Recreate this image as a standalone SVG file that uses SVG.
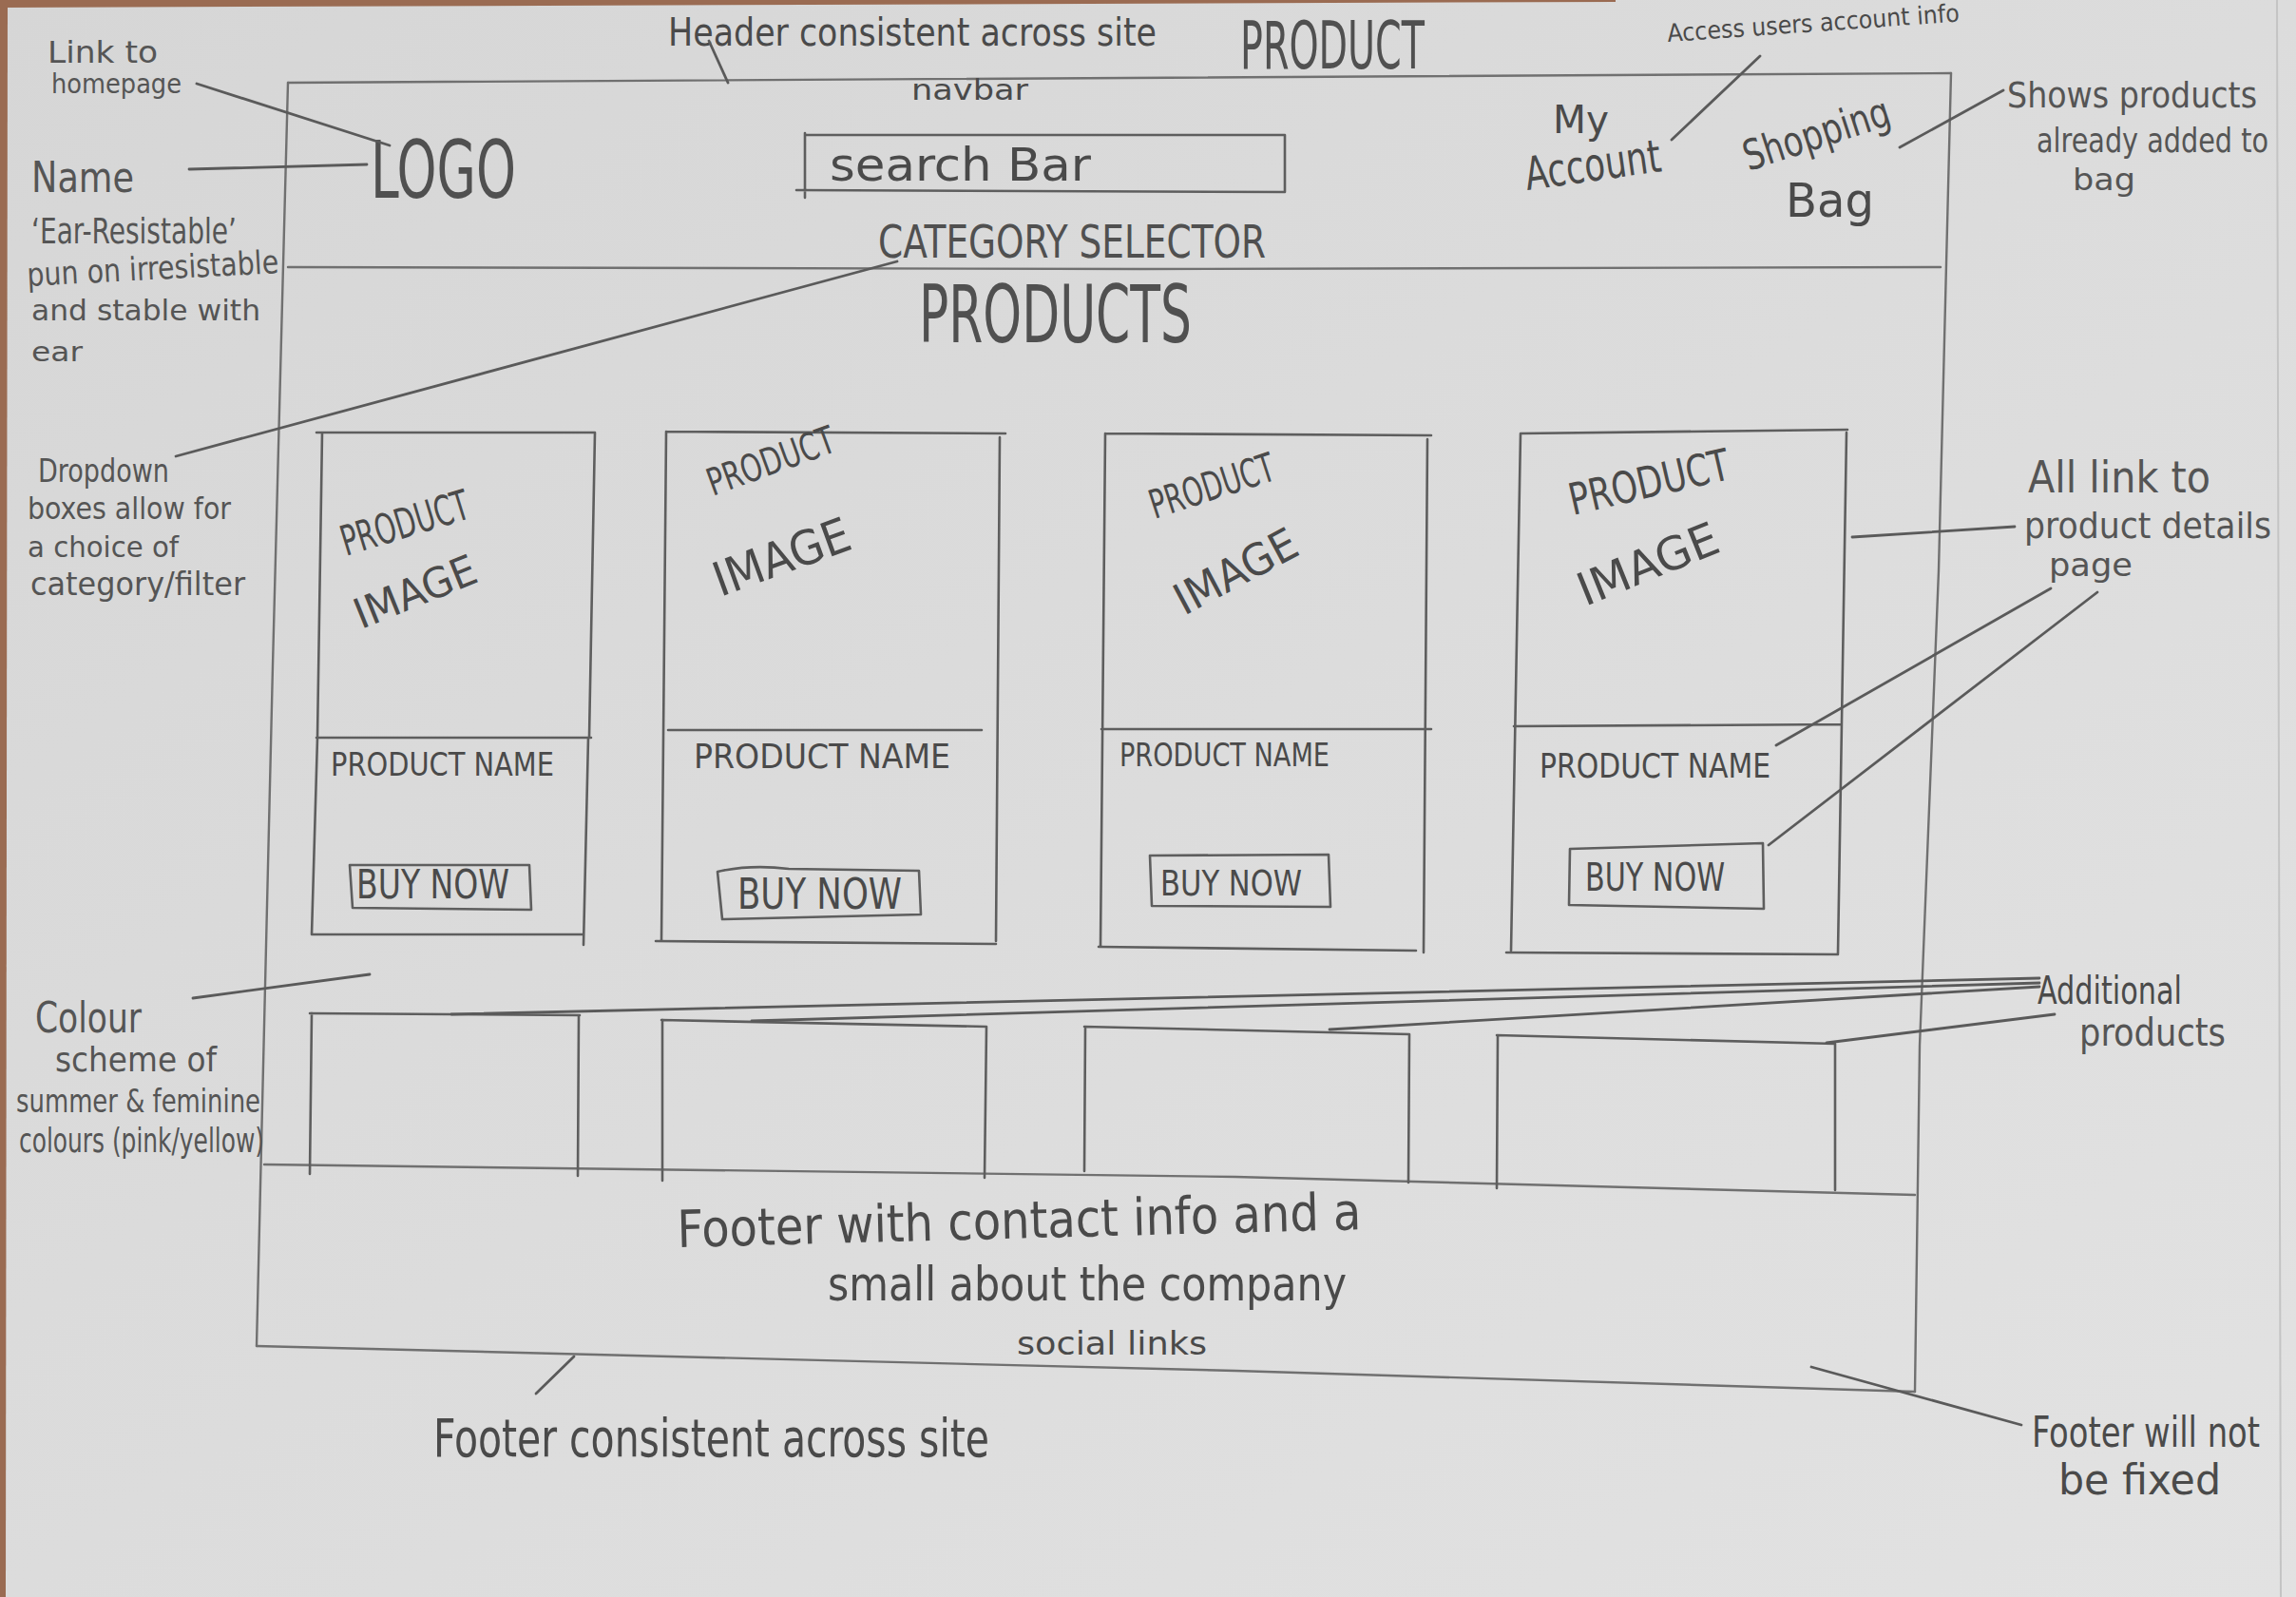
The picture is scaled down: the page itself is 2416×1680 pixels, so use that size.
<svg xmlns="http://www.w3.org/2000/svg" width="2416" height="1680" viewBox="0 0 2416 1680">
  <defs>
    <linearGradient id="paper" x1="0" y1="0" x2="1" y2="1">
      <stop offset="0" stop-color="#d6d6d6"/>
      <stop offset="0.5" stop-color="#dcdcdc"/>
      <stop offset="1" stop-color="#e2e2e2"/>
    </linearGradient>
    <style>
      .pen { fill: none; stroke: #5e5e5e; stroke-width: 2.6; stroke-linecap: round; stroke-linejoin: round; }
      .lead { fill: none; stroke: #5a5a5a; stroke-width: 2.8; stroke-linecap: round; }
      .frame { fill: none; stroke: #707070; stroke-width: 2.4; stroke-linecap: round; }
      text { font-family: "Liberation Sans Narrow", "DejaVu Sans Condensed", "Liberation Sans", sans-serif; fill: #4a4a4a; }
      .note { fill: #555555; }
      .caps { fill: #505050; }
    </style>
  </defs>

  <!-- paper sheet on the table -->
  <rect x="0" y="0" width="2416" height="1680" fill="url(#paper)"/>
  <polygon points="0,0 1700,0 1700,2 0,8" fill="#9a6b52"/>
  <polygon points="0,0 8,0 6,1680 0,1680" fill="#9a6b52"/>
  <line x1="2396" y1="0" x2="2400" y2="1680" stroke="#c4c4c4" stroke-width="2"/>

  <!-- page outline -->
  <g id="page-frame">
    <path class="frame" d="M303,87 L2053,77"/>
    <path class="frame" d="M303,87 L287,700 L270,1416"/>
    <path class="frame" d="M2053,77 L2040,600 L2020,1100 L2015,1464"/>
    <path class="frame" d="M303,281 L1200,283 L2042,281"/>
    <path class="frame" d="M278,1225 L1300,1238 L2015,1257"/>
    <path class="frame" d="M270,1416 L1300,1442 L2015,1464"/>
  </g>

  <!-- header / navbar -->
  <g id="page-title">
    <text x="1305" y="72" font-size="70" textLength="194" lengthAdjust="spacingAndGlyphs" class="caps">PRODUCT</text>
  </g>
  <g id="navbar-label">
    <text x="959" y="105" font-size="30" textLength="123" lengthAdjust="spacingAndGlyphs">navbar</text>
  </g>
  <g id="logo">
    <text x="390" y="208" font-size="84" textLength="153" lengthAdjust="spacingAndGlyphs" class="caps">LOGO</text>
  </g>
  <g id="search-bar">
    <path class="pen" d="M847,142 L1352,142 L1352,202 L838,200 M847,140 L847,208"/>
    <text x="873" y="190" font-size="48" textLength="275" lengthAdjust="spacingAndGlyphs">search Bar</text>
  </g>
  <g id="my-account">
    <text x="1634" y="140" font-size="40" textLength="59" lengthAdjust="spacingAndGlyphs">My</text>
    <text x="1607" y="200" font-size="48" textLength="144" lengthAdjust="spacingAndGlyphs" transform="rotate(-8 1607 200)">Account</text>
  </g>
  <g id="shopping-bag">
    <text x="1840" y="180" font-size="44" textLength="160" lengthAdjust="spacingAndGlyphs" transform="rotate(-18 1840 180)">Shopping</text>
    <text x="1879" y="228" font-size="50" textLength="93" lengthAdjust="spacingAndGlyphs">Bag</text>
  </g>
  <g id="category-selector">
    <text x="924" y="271" font-size="48" textLength="408" lengthAdjust="spacingAndGlyphs" class="caps">CATEGORY SELECTOR</text>
  </g>

  <!-- products section -->
  <g id="products-heading">
    <text x="967" y="360" font-size="84" textLength="287" lengthAdjust="spacingAndGlyphs" class="caps">PRODUCTS</text>
  </g>

  <g id="product-card-1">
    <path class="pen" d="M333,455 L626,455 L620,776 M333,776 L622,776 M339,455 L334,776 L328,983 L614,983 M619,776 L614,994"/>
    <text x="364" y="585" font-size="44" textLength="139" lengthAdjust="spacingAndGlyphs" transform="rotate(-17 364 585)">PRODUCT</text>
    <text x="380" y="662" font-size="44" textLength="135" lengthAdjust="spacingAndGlyphs" transform="rotate(-22 380 662)">IMAGE</text>
    <text x="348" y="816" font-size="34" textLength="235" lengthAdjust="spacingAndGlyphs">PRODUCT NAME</text>
    <path class="pen" d="M368,910 L557,910 L559,957 L371,955 Z"/>
    <text x="375" y="945" font-size="42" textLength="161" lengthAdjust="spacingAndGlyphs">BUY NOW</text>
  </g>

  <g id="product-card-2">
    <path class="pen" d="M701,454 L1058,456 M1052,460 L1048,990 M703,768 L1033,768 M701,454 L696,990 M690,990 L1048,993"/>
    <text x="750" y="522" font-size="40" textLength="140" lengthAdjust="spacingAndGlyphs" transform="rotate(-20 750 522)">PRODUCT</text>
    <text x="758" y="628" font-size="50" textLength="150" lengthAdjust="spacingAndGlyphs" transform="rotate(-20 758 628)" fill="#3e3e3e">IMAGE</text>
    <text x="730" y="808" font-size="36" textLength="270" lengthAdjust="spacingAndGlyphs">PRODUCT NAME</text>
    <path class="pen" d="M755,917 Q790,909 830,914 L967,916 L969,962 L760,967 Z"/>
    <text x="776" y="956" font-size="44" textLength="173" lengthAdjust="spacingAndGlyphs">BUY NOW</text>
  </g>

  <g id="product-card-3">
    <path class="pen" d="M1163,456 L1506,458 M1502,462 L1498,1002 M1159,767 L1506,767 M1163,456 L1158,996 M1156,996 L1490,1000"/>
    <text x="1215" y="546" font-size="42" textLength="136" lengthAdjust="spacingAndGlyphs" transform="rotate(-18 1215 546)">PRODUCT</text>
    <text x="1246" y="648" font-size="46" textLength="140" lengthAdjust="spacingAndGlyphs" transform="rotate(-28 1246 648)">IMAGE</text>
    <text x="1178" y="806" font-size="34" textLength="221" lengthAdjust="spacingAndGlyphs">PRODUCT NAME</text>
    <path class="pen" d="M1210,900 L1398,899 L1400,954 L1212,953 Z"/>
    <text x="1221" y="942" font-size="38" textLength="149" lengthAdjust="spacingAndGlyphs">BUY NOW</text>
  </g>

  <g id="product-card-4">
    <path class="pen" d="M1600,456 L1944,452 M1943,455 L1934,1003 M1593,764 L1938,762 M1600,456 L1590,1000 M1585,1002 L1934,1004"/>
    <text x="1655" y="542" font-size="46" textLength="172" lengthAdjust="spacingAndGlyphs" transform="rotate(-13 1655 542)">PRODUCT</text>
    <text x="1668" y="638" font-size="48" textLength="156" lengthAdjust="spacingAndGlyphs" transform="rotate(-22 1668 638)">IMAGE</text>
    <text x="1620" y="818" font-size="36" textLength="243" lengthAdjust="spacingAndGlyphs">PRODUCT NAME</text>
    <path class="pen" d="M1652,893 L1855,887 L1856,956 L1651,952 Z"/>
    <text x="1668" y="937" font-size="40" textLength="147" lengthAdjust="spacingAndGlyphs">BUY NOW</text>
  </g>

  <!-- additional products row -->
  <g id="additional-1">
    <path class="pen" d="M326,1066 L610,1068 M328,1066 L326,1235 M609,1068 L608,1237"/>
  </g>
  <g id="additional-2">
    <path class="pen" d="M696,1073 L1038,1080 M697,1073 L697,1242 M1038,1080 L1036,1239"/>
  </g>
  <g id="additional-3">
    <path class="pen" d="M1141,1080 L1483,1088 M1142,1082 L1141,1232 M1483,1088 L1482,1244"/>
  </g>
  <g id="additional-4">
    <path class="pen" d="M1575,1089 L1931,1098 M1576,1090 L1575,1250 M1931,1098 L1931,1252"/>
  </g>

  <!-- footer -->
  <g id="footer">
    <text x="713" y="1312" font-size="54" textLength="720" lengthAdjust="spacingAndGlyphs" transform="rotate(-1.5 713 1312)">Footer with contact info and a</text>
    <text x="871" y="1368" font-size="50" textLength="546" lengthAdjust="spacingAndGlyphs">small about the company</text>
    <text x="1070" y="1425" font-size="34" textLength="200" lengthAdjust="spacingAndGlyphs">social links</text>
  </g>

  <!-- side notes -->
  <g id="note-homepage">
    <text x="50" y="66" font-size="32" textLength="116" lengthAdjust="spacingAndGlyphs" class="note">Link to</text>
    <text x="54" y="98" font-size="28" textLength="137" lengthAdjust="spacingAndGlyphs" class="note">homepage</text>
  </g>
  <g id="note-name">
    <text x="33" y="202" font-size="44" textLength="108" lengthAdjust="spacingAndGlyphs" class="note">Name</text>
    <text x="33" y="256" font-size="38" textLength="216" lengthAdjust="spacingAndGlyphs" class="note">‘Ear-Resistable’</text>
    <text x="29" y="301" font-size="34" textLength="265" lengthAdjust="spacingAndGlyphs" class="note" transform="rotate(-3 29 301)">pun on irresistable</text>
    <text x="33" y="337" font-size="30" textLength="241" lengthAdjust="spacingAndGlyphs" class="note">and stable with</text>
    <text x="33" y="380" font-size="28" textLength="54" lengthAdjust="spacingAndGlyphs" class="note">ear</text>
  </g>
  <g id="note-header">
    <text x="703" y="48" font-size="40" textLength="514" lengthAdjust="spacingAndGlyphs">Header consistent across site</text>
  </g>
  <g id="note-account">
    <text x="1755" y="44" font-size="26" textLength="308" lengthAdjust="spacingAndGlyphs" transform="rotate(-4 1755 44)">Access users account info</text>
  </g>
  <g id="note-bag">
    <text x="2112" y="113" font-size="38" textLength="263" lengthAdjust="spacingAndGlyphs" class="note">Shows products</text>
    <text x="2143" y="160" font-size="36" textLength="244" lengthAdjust="spacingAndGlyphs" class="note">already added to</text>
    <text x="2181" y="200" font-size="32" textLength="66" lengthAdjust="spacingAndGlyphs" class="note">bag</text>
  </g>
  <g id="note-dropdown">
    <text x="40" y="507" font-size="34" textLength="138" lengthAdjust="spacingAndGlyphs" class="note">Dropdown</text>
    <text x="29" y="546" font-size="32" textLength="214" lengthAdjust="spacingAndGlyphs" class="note">boxes allow for</text>
    <text x="29" y="586" font-size="30" textLength="159" lengthAdjust="spacingAndGlyphs" class="note">a choice of</text>
    <text x="32" y="626" font-size="34" textLength="226" lengthAdjust="spacingAndGlyphs" class="note">category/filter</text>
  </g>
  <g id="note-product-links">
    <text x="2134" y="518" font-size="46" textLength="192" lengthAdjust="spacingAndGlyphs" class="note">All link to</text>
    <text x="2130" y="566" font-size="38" textLength="260" lengthAdjust="spacingAndGlyphs" class="note">product details</text>
    <text x="2156" y="606" font-size="34" textLength="88" lengthAdjust="spacingAndGlyphs" class="note">page</text>
  </g>
  <g id="note-colour">
    <text x="37" y="1086" font-size="44" textLength="112" lengthAdjust="spacingAndGlyphs" class="note">Colour</text>
    <text x="58" y="1127" font-size="36" textLength="170" lengthAdjust="spacingAndGlyphs" class="note">scheme of</text>
    <text x="17" y="1170" font-size="34" textLength="257" lengthAdjust="spacingAndGlyphs" class="note">summer &amp; feminine</text>
    <text x="20" y="1212" font-size="36" textLength="258" lengthAdjust="spacingAndGlyphs" class="note">colours (pink/yellow)</text>
  </g>
  <g id="note-additional">
    <text x="2144" y="1056" font-size="40" textLength="152" lengthAdjust="spacingAndGlyphs">Additional</text>
    <text x="2188" y="1100" font-size="40" textLength="154" lengthAdjust="spacingAndGlyphs" class="note">products</text>
  </g>
  <g id="note-footer">
    <text x="456" y="1532" font-size="56" textLength="585" lengthAdjust="spacingAndGlyphs">Footer consistent across site</text>
  </g>
  <g id="note-footer-fixed">
    <text x="2138" y="1522" font-size="44" textLength="240" lengthAdjust="spacingAndGlyphs">Footer will not</text>
    <text x="2166" y="1572" font-size="44" textLength="171" lengthAdjust="spacingAndGlyphs">be fixed</text>
  </g>

  <!-- leader lines from notes to page parts -->
  <g id="connectors">
    <path class="lead" d="M746,43 L766,87"/>
    <path class="lead" d="M207,88 L410,153"/>
    <path class="lead" d="M199,178 L386,173"/>
    <path class="lead" d="M1852,59 L1759,147"/>
    <path class="lead" d="M1999,155 L2108,95"/>
    <path class="lead" d="M944,275 L185,480"/>
    <path class="lead" d="M1949,565 L2120,554"/>
    <path class="lead" d="M1869,784 L2158,619"/>
    <path class="lead" d="M1861,889 L2207,623"/>
    <path class="lead" d="M475,1067 L2146,1029"/>
    <path class="lead" d="M791,1074 L2146,1034"/>
    <path class="lead" d="M1399,1083 L2146,1038"/>
    <path class="lead" d="M1922,1097 L2162,1067"/>
    <path class="lead" d="M203,1050 L389,1025"/>
    <path class="lead" d="M604,1427 L564,1466"/>
    <path class="lead" d="M1906,1438 L2127,1499"/>
  </g>
</svg>
